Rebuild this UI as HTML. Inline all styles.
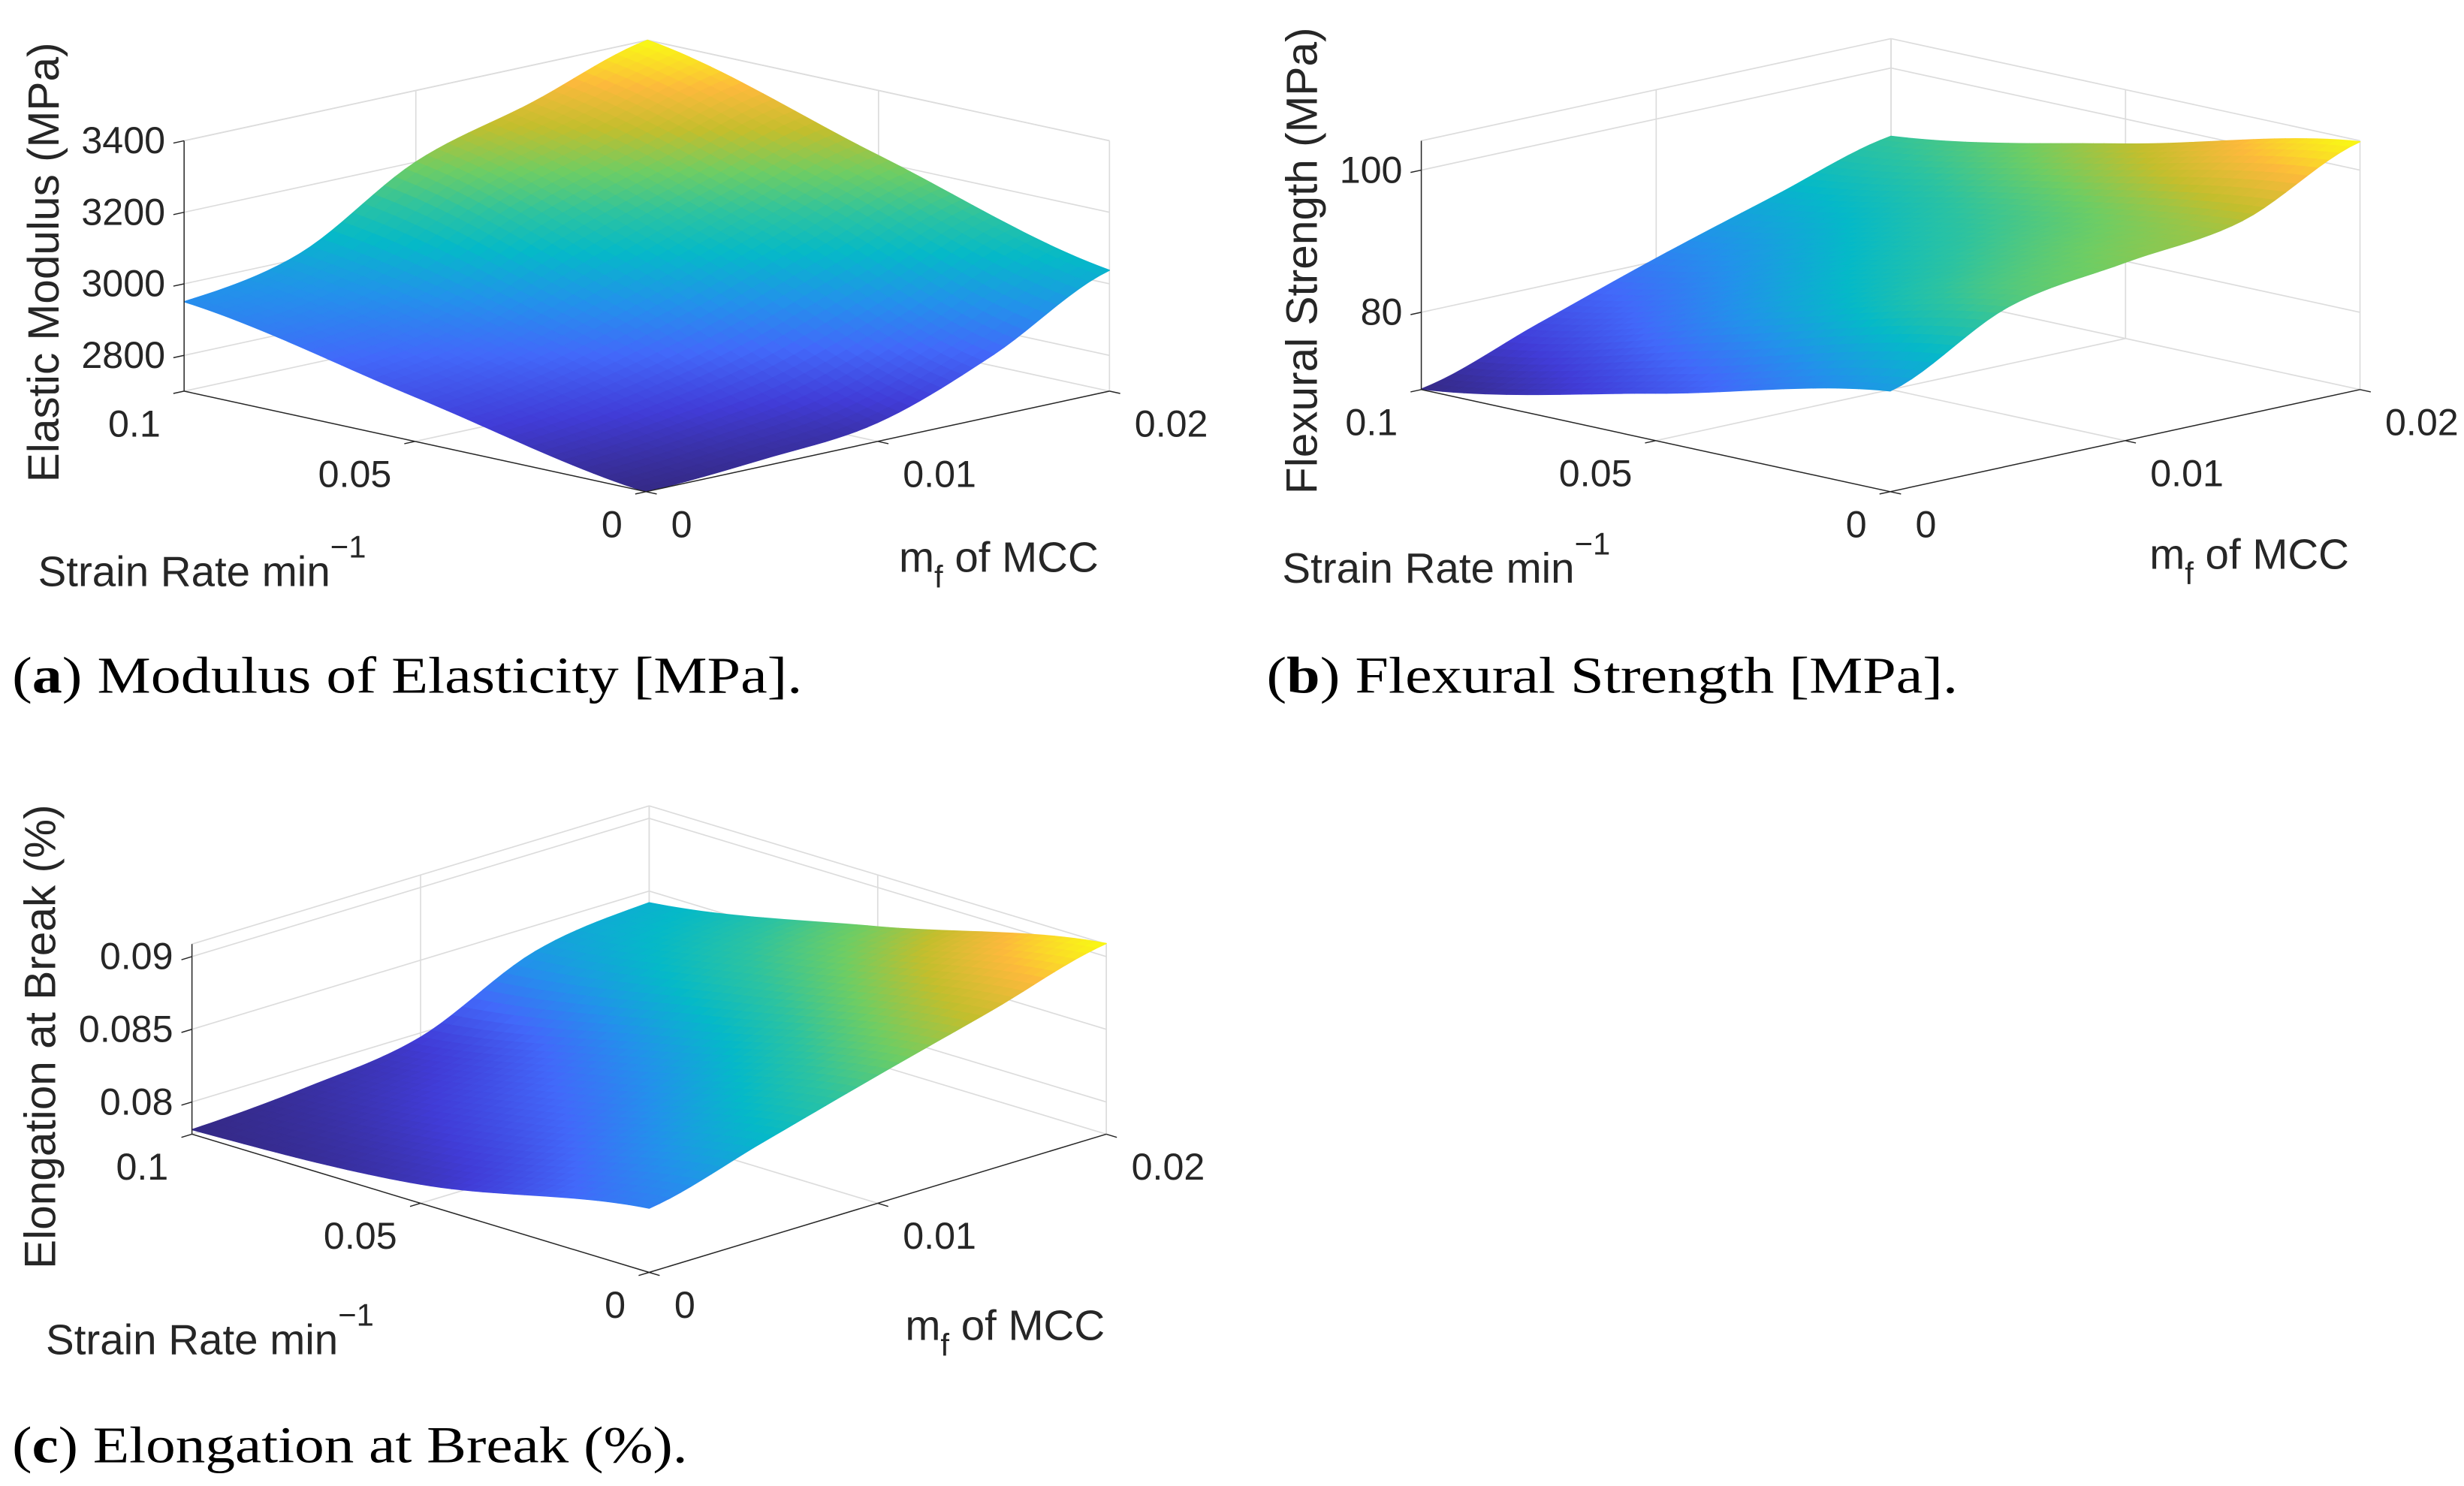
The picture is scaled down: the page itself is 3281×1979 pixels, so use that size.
<!DOCTYPE html>
<html><head><meta charset="utf-8">
<style>
html,body{margin:0;padding:0;background:#fff;}
svg{display:block;}
.tk{font-family:"Liberation Sans",sans-serif;font-size:24px;fill:#262626;}
.ax{font-family:"Liberation Sans",sans-serif;font-size:27px;fill:#262626;}
.zl{font-family:"Liberation Sans",sans-serif;font-size:28px;fill:#262626;}
.cap{font-family:"Liberation Serif",serif;font-size:33px;fill:#000;}
</style></head>
<body>
<svg id="fig" xmlns="http://www.w3.org/2000/svg" width="3281" height="1979" viewBox="0 0 1568 946">
<g id="pa"></g>
<g id="pb"></g>
<g id="pc"></g>

<text class="ax" x="24" y="373">Strain Rate min<tspan dy="-18" font-size="20">−1</tspan></text>
<text class="ax" x="572" y="364">m<tspan dy="10" font-size="20">f</tspan><tspan dy="-10"> of MCC</tspan></text>
<text class="zl" transform="translate(37,167) rotate(-90)" text-anchor="middle">Elastic Modulus (MPa)</text>
<text class="cap" x="7.5" y="441" textLength="503" lengthAdjust="spacingAndGlyphs">(<tspan font-weight="bold">a</tspan>) Modulus of Elasticity [MPa].</text>

<text class="ax" x="816" y="371">Strain Rate min<tspan dy="-18" font-size="20">−1</tspan></text>
<text class="ax" x="1368" y="362">m<tspan dy="10" font-size="20">f</tspan><tspan dy="-10"> of MCC</tspan></text>
<text class="zl" transform="translate(838,166) rotate(-90)" text-anchor="middle">Flexural Strength (MPa)</text>
<text class="cap" x="806" y="441" textLength="440" lengthAdjust="spacingAndGlyphs">(<tspan font-weight="bold">b</tspan>) Flexural Strength [MPa].</text>

<text class="ax" x="29" y="862">Strain Rate min<tspan dy="-18" font-size="20">−1</tspan></text>
<text class="ax" x="576" y="853">m<tspan dy="10" font-size="20">f</tspan><tspan dy="-10"> of MCC</tspan></text>
<text class="zl" transform="translate(35,660) rotate(-90)" text-anchor="middle">Elongation at Break (%)</text>
<text class="cap" x="7.5" y="931" textLength="430" lengthAdjust="spacingAndGlyphs">(<tspan font-weight="bold">c</tspan>) Elongation at Break (%).</text>
</svg>
<script>
// shared grid coordinates
const strainRates = [0, 0.05, 0.1];
const mfValues = [0, 0.005, 0.01, 0.015, 0.02];
const strainTicks = [0, 0.05, 0.1];
const strainTickLabels = ['0', '0.05', '0.1'];
const mfTicks = [0, 0.01, 0.02];
const mfTickLabels = ['0', '0.01', '0.02'];
// panel a: elastic modulus (rows = strain rate, cols = mf)
const modulusS0 = [2700, 2720, 2753, 2873, 3038];
const modulusS05 = [2825, 2880, 2990, 3110, 3218];
const modulusS10 = [2950, 3014, 3200, 3295, 3400];
const modulusTicks = [2800, 3000, 3200, 3400];
const modulusTickLabels = ['2800', '3000', '3200', '3400'];
// panel b: flexural strength
const flexS0 = [83.3, 91.5, 94.2, 96.5, 104];
const flexS05 = [75.8, 83.5, 88, 91.5, 96.5];
const flexS10 = [69.2, 74.8, 80.4, 85.5, 90.4];
const flexTicks = [80, 100];
const flexTickLabels = ['80', '100'];
// panel c: elongation at break
const elongS0 = [0.0822, 0.0844, 0.0866, 0.0887, 0.0909];
const elongS05 = [0.0791, 0.0808, 0.0830, 0.0858, 0.0873];
const elongS10 = [0.0781, 0.0786, 0.0797, 0.0832, 0.0842];
const elongTicks = [0.08, 0.085, 0.09];
const elongTickLabels = ['0.08', '0.085', '0.09'];

const NS = 'http://www.w3.org/2000/svg';
const PAR = [[0,[53,42,135]],[0.12,[65,60,215]],[0.25,[66,105,250]],[0.37,[35,145,235]],[0.5,[5,185,200]],[0.6,[45,195,160]],[0.7,[110,205,100]],[0.8,[195,190,45]],[0.9,[252,185,60]],[1,[249,250,20]]];
function parula(t){t=Math.max(0,Math.min(1,t));for(let i=1;i<PAR.length;i++){if(t<=PAR[i][0]){const a=PAR[i-1],b=PAR[i];const u=(t-a[0])/(b[0]-a[0]);const c=a[1].map((v,k)=>Math.round(v+(b[1][k]-v)*u));return 'rgb('+c.join(',')+')';}}return 'rgb(249,250,20)';}
function cr(arr,t){const n=arr.length;let i=Math.floor(t);if(i>=n-1)i=n-2;if(i<0)i=0;const u=t-i;const p0=arr[Math.max(i-1,0)],p1=arr[i],p2=arr[i+1],p3=arr[Math.min(i+2,n-1)];return 0.5*((2*p1)+(-p0+p2)*u+(2*p0-5*p1+4*p2-p3)*u*u+(-p0+3*p1-3*p2+p3)*u*u*u);}
function el(tag,attrs,parent){const e=document.createElementNS(NS,tag);for(const k in attrs)e.setAttribute(k,attrs[k]);parent.appendChild(e);return e;}

function drawPanel(g,prefix,F,L,R,H,zmin,zmax,rows,zt,ztl){
  const sMax=0.1,mMax=0.02;
  const P=(s,m,z)=>[F[0]+s/sMax*(L[0]-F[0])+m/mMax*(R[0]-F[0]), F[1]+s/sMax*(L[1]-F[1])+m/mMax*(R[1]-F[1])-(z-zmin)/(zmax-zmin)*H];
  const grid='#dcdcdc';
  const line=(a,b,c,w,name)=>{const l=el('line',{x1:a[0],y1:a[1],x2:b[0],y2:b[1],stroke:c,'stroke-width':w},g);};
  // floor grid
  strainTicks.forEach(s=>line(P(s,0,zmin),P(s,mMax,zmin),grid,0.8,'floor-grid-line'));
  mfTicks.forEach(m=>line(P(0,m,zmin),P(sMax,m,zmin),grid,0.8,'floor-grid-line'));
  // back walls
  mfTicks.forEach(m=>line(P(sMax,m,zmin),P(sMax,m,zmax),grid,0.8,'wall-grid-line'));
  strainTicks.forEach(s=>line(P(s,mMax,zmin),P(s,mMax,zmax),grid,0.8,'wall-grid-line'));
  zt.concat([zmax]).forEach(z=>{line(P(sMax,0,z),P(sMax,mMax,z),grid,0.8,'wall-grid-line');line(P(sMax,mMax,z),P(0,mMax,z),grid,0.8,'wall-grid-line');});
  // surface
  const N=44,quads=[];
  const zAt=(si,mi)=>{const col=rows.map(r=>cr(r,mi));return cr(col,si);};
  let dmin=Infinity,dmax=-Infinity;rows.forEach(r=>r.forEach(v=>{dmin=Math.min(dmin,v);dmax=Math.max(dmax,v);}));
  const pts=[];
  for(let i=0;i<=N;i++){pts.push([]);for(let j=0;j<=N;j++){const si=i/N*(strainRates.length-1),mj=j/N*(mfValues.length-1);const s=si/(strainRates.length-1)*sMax,m=mj/(mfValues.length-1)*mMax;const z=zAt(si,mj);pts[i].push({p:P(s,m,z),z:z});}}
  for(let i=0;i<N;i++)for(let j=0;j<N;j++){const a=pts[i][j],b=pts[i][j+1],c=pts[i+1][j+1],d=pts[i+1][j];quads.push({d:(i+j),pts:[a,b,c,d],z:(a.z+b.z+c.z+d.z)/4});}
  quads.sort((x,y)=>y.d-x.d);
  const sg=el('g',{},g);
  
  
  quads.forEach(q=>{const col=parula((q.z-dmin)/(dmax-dmin));const p=el('polygon',{points:q.pts.map(o=>o.p[0].toFixed(2)+','+o.p[1].toFixed(2)).join(' '),fill:col,stroke:col,'stroke-width':0.7,'stroke-linejoin':'round'},sg);});
  // axes
  const ink='#262626';
  line(P(0,0,zmin),P(sMax,0,zmin),ink,0.7,prefix+'-strain-axis');
  line(P(0,0,zmin),P(0,mMax,zmin),ink,0.7,prefix+'-mf-axis');
  line(P(sMax,0,zmin),P(sMax,0,zmax),ink,0.7,prefix+'-z-axis');
  const dm=[F[0]-R[0],F[1]-R[1]],lm=Math.hypot(dm[0],dm[1]);const um=[dm[0]/lm*7,dm[1]/lm*7];
  const ds=[F[0]-L[0],F[1]-L[1]],ls=Math.hypot(ds[0],ds[1]);const us=[ds[0]/ls*7,ds[1]/ls*7];
  strainTicks.forEach((s,k)=>{const p=P(s,0,zmin);line(p,[p[0]+um[0],p[1]+um[1]],ink,0.7,'strain-tick');const t=el('text',{class:'tk',x:p[0]-15,y:p[1]+29,'text-anchor':'end'},g);t.textContent=strainTickLabels[k];});
  mfTicks.forEach((m,k)=>{const p=P(0,m,zmin);line(p,[p[0]+us[0],p[1]+us[1]],ink,0.7,'mf-tick');const t=el('text',{class:'tk',x:p[0]+16,y:p[1]+29,'text-anchor':'start'},g);t.textContent=mfTickLabels[k];});
  zt.forEach((z,k)=>{const p=P(sMax,0,z);line(p,[p[0]+um[0],p[1]+um[1]],ink,0.7,'z-tick');const t=el('text',{class:'tk',x:p[0]-12,y:p[1]+8,'text-anchor':'end'},g);t.textContent=ztl[k];});
}
drawPanel(document.getElementById('pa'),'panel-a',[411,313],[117,249],[706,249],159.4,2700,3400,[modulusS0,modulusS05,modulusS10],modulusTicks,modulusTickLabels);
drawPanel(document.getElementById('pb'),'panel-b',[1203,313],[904.5,248],[1502,248],158.4,69.13,104.13,[flexS0,flexS05,flexS10],flexTicks,flexTickLabels);
drawPanel(document.getElementById('pc'),'panel-c',[413,810],[122,722],[704,722],121,0.07779,0.09086,[elongS0,elongS05,elongS10],elongTicks,elongTickLabels);
</script>
</body></html>
